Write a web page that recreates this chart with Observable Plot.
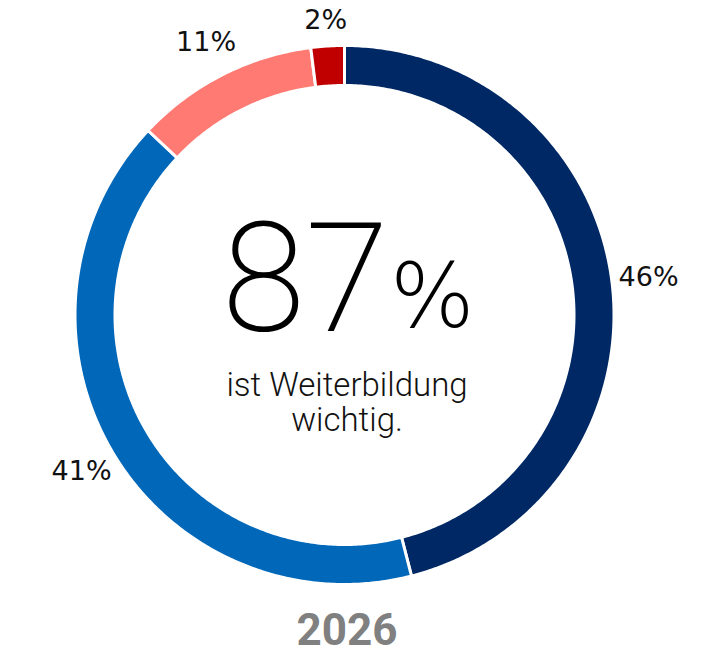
<!DOCTYPE html>
<html><head><meta charset="utf-8">
<script src="https://cdn.jsdelivr.net/npm/d3@7"></script>
<script src="https://cdn.jsdelivr.net/npm/@observablehq/plot@0.6"></script>
<style>body{margin:0;background:#fff}</style>
</head><body><div id="chart"></div>
<script>
// ---- data ----
const categories = ["Sehr wichtig", "Eher wichtig", "Eher unwichtig", "Unwichtig"];
const shares = [46, 41, 11, 2];
const shareLabels = ["46%", "41%", "11%", "2%"];
const colors = ["#002864", "#0067B9", "#FF7A73", "#C00000"];
const headline = "87";
const headlineUnit = "%";
const sublineLines = ["ist Weiterbildung", "wichtig."];
const yearLabel = "2026";

// ---- layout (units of outer radius) ----
const W = 704, H = 653;
const cx = 344.5, cy = 315, R = 268;
const rOuter = (R + 1.5) / R, rInner = (231 - 1.5) / R, rLabel = 306 / R;
const topLimit = (cy - 20) / R;

const total = d3.sum(shares);
const arcs = [];
const labelPts = [];
let acc = 0;
categories.forEach((c, i) => {
  const a0 = acc / total * 2 * Math.PI;
  acc += shares[i];
  const a1 = acc / total * 2 * Math.PI;
  const n = Math.max(4, Math.ceil((a1 - a0) / 0.01));
  for (let k = 0; k <= n; k++) {
    const a = a0 + (a1 - a0) * k / n;
    arcs.push({cat: c, x1: rInner * Math.sin(a), y1: rInner * Math.cos(a), x2: rOuter * Math.sin(a), y2: rOuter * Math.cos(a)});
  }
  const am = (a0 + a1) / 2;
  labelPts.push({cat: c, label: shareLabels[i], x: rLabel * Math.sin(am), y: Math.min(topLimit, rLabel * Math.cos(am))});
});

const sublinePts = sublineLines.map((t, i) => ({text: t, y: -(385 + i * 35 - cy) / R}));

const chart = Plot.plot({
  width: W, height: H,
  margin: 0,
  x: {domain: [-cx / R, (W - cx) / R], range: [0, W], axis: null},
  y: {domain: [-(H - cy) / R, cy / R], range: [H, 0], axis: null},
  color: {domain: categories, range: colors},
  marks: [
    Plot.area(arcs, {x1: "x1", y1: "y1", x2: "x2", y2: "y2", z: "cat", fill: "cat", stroke: "white", strokeWidth: 3, curve: "linear"}),
    Plot.text(labelPts, {x: "x", y: "y", text: "label", fontSize: 27, fontFamily: "DejaVu Sans", fill: "#111", textAnchor: "middle", lineAnchor: "middle"}),
    Plot.text([headline], {x: 0, y: 33 / R, text: d => d, fontSize: 152, fontFamily: "Roboto", fontWeight: 200, fill: "#000", textAnchor: "end", lineAnchor: "middle", dx: 44}),
    Plot.text([headlineUnit], {x: 0, y: 17 / R, text: d => d, fontSize: 89, fontFamily: "DejaVu Sans", fontWeight: 200, fill: "#000", textAnchor: "start", lineAnchor: "middle", dx: 45}),
    Plot.text(sublinePts, {x: 0, y: "y", text: "text", fontSize: 33, fontFamily: "Roboto", fontWeight: 300, fill: "#111", textAnchor: "middle", lineAnchor: "middle", dx: 2}),
    Plot.text([yearLabel], {x: 0, y: -(630 - cy) / R, text: d => d, fontSize: 44, fontFamily: "Roboto", fontWeight: 700, fill: "#808080", textAnchor: "middle", lineAnchor: "middle", dx: 2})
  ]
});
document.getElementById("chart").appendChild(chart);
</script>
</body></html>
